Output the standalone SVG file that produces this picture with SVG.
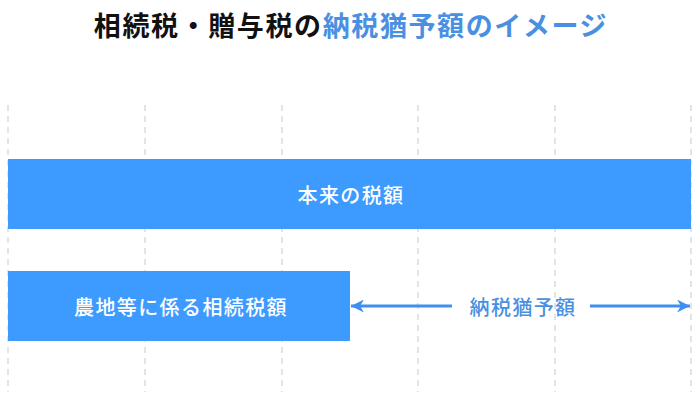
<svg xmlns="http://www.w3.org/2000/svg" width="700" height="403" viewBox="0 0 700 403">
<style>
.grid{stroke:#dcdcdc;stroke-width:1.5;stroke-dasharray:6 5}
.bar{fill:#3d9aff}
.lbl{font-family:"Noto Sans CJK JP","Noto Sans",sans-serif;font-size:20px;font-weight:500;letter-spacing:1.4px;fill:#ffffff;text-anchor:middle;dominant-baseline:central}
.title{font-family:"Noto Sans CJK JP","Noto Sans",sans-serif;font-size:27px;font-weight:bold;letter-spacing:1.6px;text-anchor:middle}
.arr{stroke:#3d8ff0;stroke-width:3;fill:none}
</style>
<defs>
<marker id="ah" viewBox="0 0 10 10" refX="10" refY="5" markerWidth="7" markerHeight="4.3" markerUnits="strokeWidth" orient="auto-start-reverse">
<path d="M0,0 L10,5 L0,10 L3,5 Z" fill="#3d8ff0"/>
</marker>
</defs>
<rect width="700" height="403" fill="#ffffff"/>
<text class="title" x="351" y="36"><tspan fill="#111111">相続税・贈与税の</tspan><tspan fill="#4a90e2">納税猶予額のイメージ</tspan></text>
<g id="grid">
<line class="grid" x1="8" y1="105" x2="8" y2="392"/>
<line class="grid" x1="145" y1="105" x2="145" y2="392"/>
<line class="grid" x1="282" y1="105" x2="282" y2="392"/>
<line class="grid" x1="418" y1="105" x2="418" y2="392"/>
<line class="grid" x1="555" y1="105" x2="555" y2="392"/>
<line class="grid" x1="691" y1="105" x2="691" y2="392"/>
</g>
<g id="node-original">
<rect class="bar" x="8" y="159" width="683" height="70"/>
<text class="lbl" x="351" y="194">本来の税額</text>
</g>
<g id="node-farmland">
<rect class="bar" x="8" y="271" width="342" height="70"/>
<text class="lbl" x="181" y="306">農地等に係る相続税額</text>
</g>
<g id="connectors">
<line class="arr" x1="452" y1="306" x2="351" y2="306" marker-end="url(#ah)"/>
<line class="arr" x1="590" y1="306" x2="690" y2="306" marker-end="url(#ah)"/>
</g>
<text class="lbl" x="523" y="306" style="fill:#4a90e2">納税猶予額</text>
</svg>
